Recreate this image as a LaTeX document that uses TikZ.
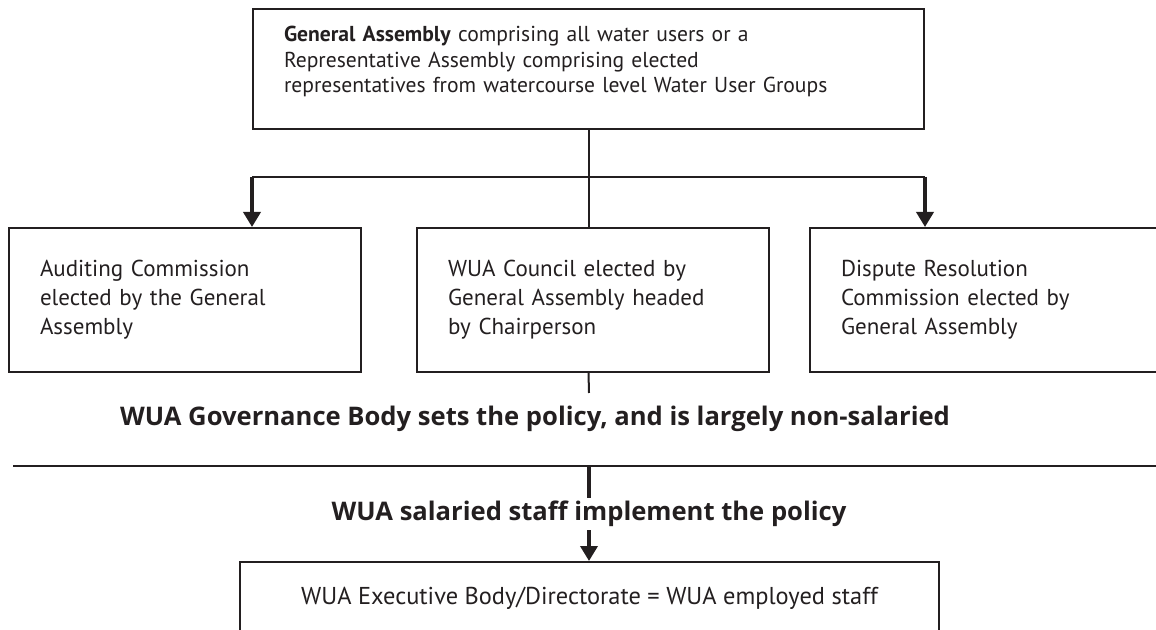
\documentclass[tikz,border=0pt]{standalone}
\usepackage{fontspec}
\setmainfont{PT Sans}
\newfontfamily\headfont{Open Sans}
\usetikzlibrary{positioning,arrows.meta}
\definecolor{ink}{RGB}{35,31,32}

\begin{document}
\begin{tikzpicture}[x=0.5pt, y=-0.5pt,
		box/.style={draw=ink, line width=1pt, text=ink, inner xsep=15.5pt, align=left, font=\fontsize{11.5}{14.5}\selectfont},
		sidebox/.style={box, minimum width=176pt, minimum height=72pt, text width=145pt},
		headline/.style={text=ink, inner ysep=1.5pt, font=\headfont\fontsize{12.8}{14}\selectfont\bfseries},
		link/.style={draw=ink, line width=1pt},
		push/.style={draw=ink, line width=1.8pt, -{Triangle[length=7.5pt,width=8.5pt]}}]
		\clip (0,0) rectangle (1156,630);
		
		\node[box, minimum width=335.5pt, minimum height=60pt, text width=304.5pt, text depth=35pt, font=\fontsize{10.8}{12.75}\selectfont] (ga) at (588.5,69)
			{\textbf{General Assembly} comprising all water users or a\\
			Representative Assembly comprising elected\\
			representatives from watercourse level Water User Groups};
		\node[sidebox, below=48.5pt of ga, xshift=2.25pt] (wc)
			{WUA Council elected by\\General Assembly headed\\by Chairperson};
		\node[sidebox, left=27pt of wc] (ac)
			{Auditing Commission\\elected by the General\\Assembly};
		\node[sidebox, right=19.5pt of wc] (dr)
			{Dispute Resolution\\Commission elected by\\General Assembly};
		
		\coordinate (bar) at (589,177);
		\draw[link] (ga.south) -- (ga.south |- wc.north);
		\draw[link] (ga.west |- bar) -- (ga.east |- bar);
		\draw[push] (ga.west |- bar) -- (ga.west |- ac.north);
		\draw[push] (ga.east |- bar) -- (ga.east |- dr.north);
		
		\coordinate (wcend) at (589,393);
		\draw[link] (ga.south |- wc.south) -- (wcend);
		
		\node[headline] (gov) at (535,419) {WUA Governance Body sets the policy, and is largely non-salaried};
		\coordinate (splitL) at (13,466);
		\coordinate (splitR) at (1160,466);
		\draw[link] (splitL) -- (splitR);
		
		\node[headline] (staff) at (589,514) {WUA salaried staff implement the policy};
		\node[box, minimum width=349.5pt, minimum height=36pt, align=center, font=\fontsize{12.2}{14.5}\selectfont] (exb) at (589.5,598)
			{WUA Executive Body/Directorate = WUA employed staff};
		\draw[draw=ink, line width=1.8pt] (staff.north |- splitL) -- (staff.north);
		\draw[push] (staff.south) -- (staff.south |- exb.north);
	\end{tikzpicture}
\end{document}
